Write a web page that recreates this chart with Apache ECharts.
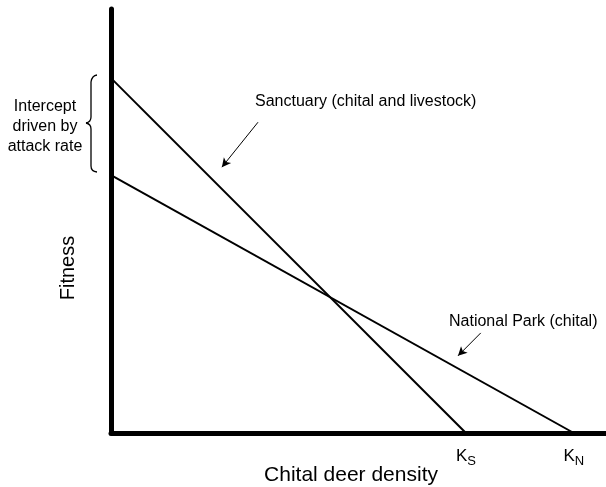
<!DOCTYPE html>
<html>
<head>
<meta charset="utf-8">
<script src="https://cdn.jsdelivr.net/npm/echarts@6/dist/echarts.min.js"></script>
<style>html,body{margin:0;padding:0;background:#fff}#c{width:606px;height:487px}</style>
</head>
<body>
<div id="c"></div>
<script>
// Data (schematic units)
const xRange = [0, 100];
const yRange = [0, 100];
const sanctuaryX = [0, 71.7];
const sanctuaryY = [83.7, 0];
const nationalParkX = [0, 93.5];
const nationalParkY = [60.8, 0];
const kPositions = [71.7, 93.5];
const kSubscripts = ['S', 'N'];
const sanctuaryArrow = [[29.7, 73.3], [22.4, 62.7]];
const parkArrow = [[74.7, 23.6], [70.1, 18.2]];

const FONT = 'Liberation Sans, Arial, sans-serif';
const chart = echarts.init(document.getElementById('c'), null, {renderer: 'canvas'});

function pairs(xs, ys) { return xs.map((x, i) => [x, ys[i]]); }

const braceStyle = {stroke: '#000', lineWidth: 1.3, fill: null};

chart.setOption({
  backgroundColor: '#fff',
  animation: false,
  grid: {left: 111, right: 0, top: 9, bottom: 54, containLabel: false},
  xAxis: {
    type: 'value', min: xRange[0], max: xRange[1],
    axisLine: {show: true, lineStyle: {color: '#000', width: 5}},
    axisTick: {show: false},
    splitLine: {show: false},
    axisLabel: {
      show: true,
      customValues: kPositions,
      margin: 15,
      formatter: function (v) {
        const i = kPositions.indexOf(v);
        return '{k|K}{s|' + (i >= 0 ? kSubscripts[i] : '') + '}';
      },
      rich: {
        k: {fontFamily: FONT, fontSize: 17, color: '#000', lineHeight: 20, verticalAlign: 'top'},
        s: {fontFamily: FONT, fontSize: 13, color: '#000', lineHeight: 20, verticalAlign: 'bottom', padding: [10, 0, 0, 0]}
      }
    }
  },
  yAxis: {
    type: 'value', min: yRange[0], max: yRange[1],
    axisLine: {show: true, lineStyle: {color: '#000', width: 5}},
    axisTick: {show: false},
    axisLabel: {show: false},
    splitLine: {show: false}
  },
  series: [
    {
      name: 'Sanctuary (chital and livestock)', type: 'line', symbol: 'none',
      data: pairs(sanctuaryX, sanctuaryY),
      lineStyle: {color: '#000', width: 2},
      markLine: {
        silent: true, symbol: ['none', 'arrow'], symbolSize: [7, 9],
        lineStyle: {color: '#000', width: 1, type: 'solid'},
        label: {show: false},
        data: [[{coord: sanctuaryArrow[0]}, {coord: sanctuaryArrow[1]}]]
      }
    },
    {
      name: 'National Park (chital)', type: 'line', symbol: 'none',
      data: pairs(nationalParkX, nationalParkY),
      lineStyle: {color: '#000', width: 2},
      markLine: {
        silent: true, symbol: ['none', 'arrow'], symbolSize: [7, 9],
        lineStyle: {color: '#000', width: 1, type: 'solid'},
        label: {show: false},
        data: [[{coord: parkArrow[0]}, {coord: parkArrow[1]}]]
      }
    }
  ],
  graphic: [
    {type: 'text', x: 255, y: 102, style: {text: 'Sanctuary (chital and livestock)', font: '16px ' + FONT, fill: '#000', verticalAlign: 'middle'}},
    {type: 'text', x: 449, y: 322, style: {text: 'National Park (chital)', font: '16px ' + FONT, fill: '#000', verticalAlign: 'middle'}},
    {type: 'text', x: 45, y: 127, style: {text: 'Intercept\ndriven by\nattack rate', font: '16px ' + FONT, fill: '#000', align: 'center', verticalAlign: 'middle', lineHeight: 20}},
    {type: 'text', x: 351, y: 475, style: {text: 'Chital deer density', font: '21px ' + FONT, fill: '#000', align: 'center', verticalAlign: 'middle'}},
    {type: 'text', x: 68, y: 268, rotation: Math.PI / 2, style: {text: 'Fitness', font: '20px ' + FONT, fill: '#000', align: 'center', verticalAlign: 'middle'}},
    {type: 'bezierCurve', shape: {x1: 97, y1: 75, x2: 91, y2: 82, cpx1: 92, cpy1: 75.5}, style: braceStyle},
    {type: 'line', shape: {x1: 91, y1: 82, x2: 91, y2: 117}, style: braceStyle},
    {type: 'bezierCurve', shape: {x1: 91, y1: 117, x2: 86, y2: 123, cpx1: 91, cpy1: 122}, style: braceStyle},
    {type: 'bezierCurve', shape: {x1: 86, y1: 123, x2: 91, y2: 129, cpx1: 91, cpy1: 124}, style: braceStyle},
    {type: 'line', shape: {x1: 91, y1: 129, x2: 91, y2: 166}, style: braceStyle},
    {type: 'bezierCurve', shape: {x1: 91, y1: 166, x2: 97, y2: 172, cpx1: 91, cpy1: 171.5}, style: braceStyle}
  ]
});
</script>
</body>
</html>
